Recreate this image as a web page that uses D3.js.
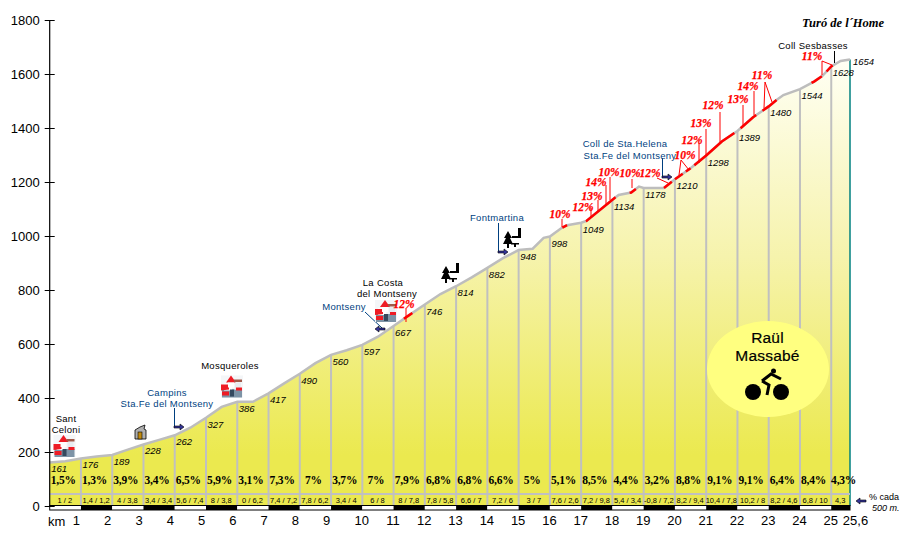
<!DOCTYPE html>
<html>
<head>
<meta charset="utf-8">
<script src="https://d3js.org/d3.v7.min.js"></script>
<style>
    html, body { margin: 0; padding: 0; background: #fff; }
    svg { display: block; }
    text { font-family: "Liberation Sans", Arial, sans-serif; }
    .axis path { display: none; }
    .axis text { font-size: 13px; fill: #000; }
</style>
</head>
<body>
<div id="chart"></div>
<script>
const width = 900;
const height = 540;

// profile, km and metres
const profileKm = [0, 0.5, 1, 1.5, 2, 2.5, 3, 3.5, 4, 4.5, 5, 5.5, 6, 6.5, 7, 7.5, 8, 8.5, 9, 9.5, 10, 10.5, 11, 11.5, 12, 12.5, 13, 13.5, 14, 14.5, 15, 15.45, 15.8, 16, 16.35, 16.55, 17, 17.17, 18.07, 18.2, 18.6, 18.85, 19, 19.65, 20, 20.5, 21, 21.5, 22, 22.5, 23, 23.25, 23.47, 24, 24.45, 24.72, 25, 25.3, 25.6];
const profileElev = [161, 166, 176, 183, 189, 209, 228, 245, 262, 290, 327, 367, 386, 386, 417, 454, 490, 529, 560, 577, 597, 627, 667, 707, 746, 785, 814, 847, 882, 918, 948, 953, 993, 998, 1028, 1040, 1049, 1056, 1141, 1152, 1161, 1183, 1178, 1178, 1210, 1251, 1298, 1350, 1389, 1440, 1480, 1504, 1522, 1544, 1572, 1593, 1628, 1648, 1654];

const kmMarks = d3.range(0, 26).concat([25.6]);
const kmElev = [161, 176, 189, 228, 262, 327, 386, 417, 490, 560, 597, 667, 746, 814, 882, 948, 998, 1049, 1134, 1178, 1210, 1298, 1389, 1480, 1544, 1628, 1654];
const kmLabels = [1, 2, 3, 4, 5, 6, 7, 8, 9, 10, 11, 12, 13, 14, 15, 16, 17, 18, 19, 20, 21, 22, 23, 24, 25, 25.6];

const kmGrade = ["1,5%", "1,3%", "3,9%", "3,4%", "6,5%", "5,9%", "3,1%", "7,3%", "7%", "3,7%", "7%", "7,9%", "6,8%", "6,8%", "6,6%", "5%", "5,1%", "8,5%", "4,4%", "3,2%", "8,8%", "9,1%", "9,1%", "6,4%", "8,4%", "4,3%"];
const halfGrade = ["1 / 2", "1,4 / 1,2", "4 / 3,8", "3,4 / 3,4", "5,6 / 7,4", "8 / 3,8", "0 / 6,2", "7,4 / 7,2", "7,8 / 6,2", "3,4 / 4", "6 / 8", "8 / 7,8", "7,8 / 5,8", "6,6 / 7", "7,2 / 6", "3 / 7", "7,6 / 2,6", "7,2 / 9,8", "5,4 / 3,4", "-0,8 / 7,2", "8,2 / 9,4", "10,4 / 7,8", "10,2 / 8", "8,2 / 4,6", "6,8 / 10", "4,3"];

// stretches of 10% or more, drawn in red on the profile
const steepFrom = [11.33, 16.4, 17.15, 18.55, 19.65, 20, 20.35, 20.62, 22.1, 22.8, 24.37, 24.85];
const steepTo = [11.6, 16.55, 18.1, 18.75, 19.9, 20.25, 20.5, 21.9, 22.6, 23.25, 24.7, 25.05];

const yTicks = d3.range(0, 1801, 200);

// placement of the annotations, in page pixels
const gradeNotes = [
    { t: "12%", x: 404, y: 304, leaders: [[406, 308, 406, 322]] },
    { t: "10%", x: 560, y: 214, leaders: [[562, 219, 562, 227]] },
    { t: "12%", x: 583, y: 207, leaders: [[591, 208, 591, 218]] },
    { t: "13%", x: 592, y: 196, leaders: [[598, 200, 598, 212]] },
    { t: "14%", x: 596, y: 182, leaders: [[606, 185, 606, 205]] },
    { t: "10%", x: 609, y: 172, leaders: [[610, 177, 610, 200]] },
    { t: "10%", x: 630, y: 173, leaders: [[632, 179, 632, 188]] },
    { t: "12%", x: 650, y: 173, leaders: [[657, 178, 668, 183]] },
    { t: "10%", x: 685, y: 155, leaders: [[681, 160, 679, 175], [681, 160, 689, 170]] },
    { t: "12%", x: 692, y: 140, leaders: [[699, 143, 699, 163]] },
    { t: "13%", x: 701, y: 123, leaders: [[706, 129, 706, 155]] },
    { t: "12%", x: 713, y: 105, leaders: [[720, 112, 720, 142]] },
    { t: "13%", x: 738, y: 99, leaders: [[743, 105, 743, 127]] },
    { t: "14%", x: 748, y: 86, leaders: [[754, 91, 754, 115]] },
    { t: "11%", x: 762, y: 75, leaders: [[765, 82, 764, 108], [765, 82, 772, 102]] },
    { t: "11%", x: 812, y: 56, leaders: [[822, 61, 822, 75], [822, 61, 832, 65]] }
];
const placeNames = [
    { t: "Sant", x: 66, y: 418, c: "#000" },
    { t: "Celoni", x: 66, y: 429, c: "#000" },
    { t: "Mosqueroles", x: 230, y: 365, c: "#000" },
    { t: "Campins", x: 167, y: 392, c: "#003f7f" },
    { t: "Sta.Fe del Montseny", x: 167, y: 403, c: "#003f7f" },
    { t: "La Costa", x: 383, y: 282, c: "#000" },
    { t: "del Montseny", x: 387, y: 293, c: "#000" },
    { t: "Montseny", x: 344, y: 306, c: "#003f7f" },
    { t: "Fontmartina", x: 497, y: 217, c: "#003f7f" },
    { t: "Coll de Sta.Helena", x: 625, y: 143, c: "#003f7f" },
    { t: "Sta.Fe del Montseny", x: 630, y: 155, c: "#003f7f" },
    { t: "Coll  Sesbasses", x: 813, y: 45, c: "#000" }
];

const svg = d3.select("#chart").append("svg")
    .attr("width", width)
    .attr("height", height);

const x = d3.scaleLinear().domain([0, 25.6]).range([49.7, 850]);
const y = d3.scaleLinear().domain([0, 1800]).range([506, 20]);

// height of the road at any km, following the read profile
const elevAt = d3.scaleLinear().domain(profileKm).range(profileElev);

const fill = svg.append("defs").append("linearGradient")
    .attr("id", "fade")
    .attr("gradientUnits", "userSpaceOnUse")
    .attr("x1", 0).attr("y1", 60)
    .attr("x2", 0).attr("y2", 455);
fill.append("stop").attr("offset", 0).attr("stop-color", "#fffff4");
fill.append("stop").attr("offset", 0.5).attr("stop-color", "#f6f3ac");
fill.append("stop").attr("offset", 1).attr("stop-color", "#ebe94f");

const area = d3.area()
    .x((d, i) => x(profileKm[i]))
    .y0(y(0))
    .y1(d => y(d));

const line = d3.line()
    .x((d, i) => x(profileKm[i]))
    .y(d => y(d));

svg.append("path")
    .datum(profileElev)
    .attr("d", area)
    .attr("fill", "url(#fade)");

// km separators
svg.append("g").selectAll("line")
    .data(kmMarks.slice(1, -1))
    .join("line")
    .attr("x1", d => x(d)).attr("x2", d => x(d))
    .attr("y1", d => y(elevAt(d)))
    .attr("y2", y(0))
    .attr("stroke", "#c0c0c0")
    .attr("stroke-width", 2);

svg.append("line")
    .attr("x1", x(25.6)).attr("x2", x(25.6))
    .attr("y1", y(1654)).attr("y2", y(0))
    .attr("stroke", "#008080")
    .attr("stroke-width", 1.5);

svg.append("line")
    .attr("x1", x(0)).attr("x2", x(25.6))
    .attr("y1", 494).attr("y2", 494)
    .attr("stroke", "#c0c0c0")
    .attr("stroke-width", 2);

svg.append("path")
    .datum(profileElev)
    .attr("d", line)
    .attr("fill", "none")
    .attr("stroke", "#bdbdbd")
    .attr("stroke-width", 2.5);

// steep stretches
steepFrom.forEach((from, i) => {
    const kms = [from, ...profileKm.filter(k => k > from && k < steepTo[i]), steepTo[i]];
    svg.append("path")
        .datum(kms)
        .attr("d", d3.line().x(k => x(k)).y(k => y(elevAt(k))))
        .attr("fill", "none")
        .attr("stroke", "#ff0000")
        .attr("stroke-width", 2.5);
});

// black and white km bar
svg.append("g").selectAll("rect")
    .data(kmMarks.slice(0, -1))
    .join("rect")
    .attr("x", d => x(d))
    .attr("y", 506)
    .attr("width", (d, i) => x(kmMarks[i + 1]) - x(d))
    .attr("height", 4)
    .attr("fill", (d, i) => i % 2 ? "#000" : "#fff");

svg.append("rect")
    .attr("x", x(0)).attr("y", 505.5)
    .attr("width", x(25.6) - x(0)).attr("height", 4.5)
    .attr("fill", "none")
    .attr("stroke", "#000")
    .attr("stroke-width", 1);

// axes
const yAxis = svg.append("g")
    .attr("class", "axis")
    .attr("transform", `translate(${x(0)},0)`)
    .call(d3.axisLeft(y).tickValues(yTicks).tickFormat(d => d).tickSize(5).tickPadding(4));
yAxis.selectAll(".tick line").attr("x2", 5).attr("x1", -5).attr("stroke", "#000");
yAxis.selectAll(".tick text").attr("x", -10);

svg.append("line")
    .attr("x1", x(0)).attr("x2", x(0))
    .attr("y1", y(1800)).attr("y2", y(0))
    .attr("stroke", "#000")
    .attr("stroke-width", 1.2);

const xAxis = svg.append("g")
    .attr("class", "axis")
    .attr("transform", "translate(0,515)")
    .call(d3.axisBottom(x)
        .tickValues(kmLabels)
        .tickSize(0)
        .tickPadding(0)
        .tickFormat(d => String(d).replace(".", ",")));
xAxis.selectAll(".tick text")
    .attr("y", 0)
    .attr("dy", "0.8em")
    .attr("dx", d => d === 25.6 ? 5 : d < 10 ? -5 : -1);

svg.append("text")
    .attr("x", 48).attr("y", 525.5)
    .style("font-size", "13px")
    .text("km");

// labels along the road
svg.append("g").selectAll("text")
    .data(kmElev)
    .join("text")
    .attr("x", (d, i) => x(kmMarks[i]) + (i === 26 ? 3 : 1.5))
    .attr("y", (d, i) => y(d) + (i === 26 ? 6 : i === 0 ? 9 : 10))
    .style("font-size", "9.5px")
    .style("font-style", "italic")
    .text(d => d);

svg.append("g").selectAll("text")
    .data(kmGrade)
    .join("text")
    .attr("x", (d, i) => (x(kmMarks[i]) + x(kmMarks[i + 1])) / 2 + (i === 25 ? 3 : -2))
    .attr("y", 484)
    .attr("text-anchor", "middle")
    .style("font-family", "'Liberation Serif', serif")
    .style("font-weight", "bold")
    .style("font-size", "11.5px")
    .style("letter-spacing", "-0.2px")
    .text(d => d);

svg.append("g").selectAll("text")
    .data(halfGrade)
    .join("text")
    .attr("x", (d, i) => (x(kmMarks[i]) + x(kmMarks[i + 1])) / 2 - 0.5)
    .attr("y", 503)
    .attr("text-anchor", "middle")
    .style("font-size", "7.5px")
    .text(d => d);

// place names
svg.append("g").selectAll("text")
    .data(placeNames)
    .join("text")
    .attr("x", d => d.x)
    .attr("y", d => d.y + 3.5)
    .attr("text-anchor", "middle")
    .attr("fill", d => d.c)
    .style("font-size", "9.5px")
    .style("letter-spacing", "0.3px")
    .text(d => d.t);

svg.append("text")
    .attr("x", 843).attr("y", 26.5)
    .attr("text-anchor", "middle")
    .style("font-family", "'Liberation Serif', serif")
    .style("font-weight", "bold")
    .style("font-style", "italic")
    .style("font-size", "12.5px")
    .text("Turó de l´Home");

svg.append("line")
    .attr("x1", 834.5).attr("x2", 834.5)
    .attr("y1", 51).attr("y2", 63)
    .attr("stroke", "#000");

// blue pointers with arrow ends
function arrow(px, py, dir) {
    const g = svg.append("g").attr("transform", `translate(${px},${py}) scale(${dir},1)`);
    g.append("path")
        .attr("d", "M0,-1 L6,-1 L6,-3 L10,0 L6,3 L6,1 L0,1 Z")
        .attr("fill", "#333399")
        .attr("stroke", "#000")
        .attr("stroke-width", 0.6);
}

function leader(x1, y1, x2, y2, color) {
    svg.append("line")
        .attr("x1", x1).attr("y1", y1)
        .attr("x2", x2).attr("y2", y2)
        .attr("stroke", color)
        .attr("stroke-width", 1);
}

leader(174.5, 408, 174.5, 427, "#003f7f");
arrow(174, 427, 1);
leader(498.5, 223, 498.5, 252, "#003f7f");
arrow(498, 252, 1);
leader(662.5, 158, 662.5, 177, "#003f7f");
arrow(662, 177, 1);
leader(365, 312, 382, 328, "#003f7f");
arrow(385, 329, -1);
arrow(866, 501, -1);

svg.append("text")
    .attr("x", 869).attr("y", 499.5)
    .style("font-size", "9px")
    .text("% cada");
svg.append("text")
    .attr("x", 872).attr("y", 511)
    .style("font-size", "9px")
    .style("font-style", "italic")
    .text("500 m.");

// town icon
function town(px, py) {
    const g = svg.append("g").attr("transform", `translate(${px},${py})`);
    g.append("rect").attr("width", 22).attr("height", 22).attr("fill", "#f4f6f8");
    g.append("rect").attr("x", 1).attr("y", 14).attr("width", 20).attr("height", 8).attr("fill", "#7d93a6");
    g.append("rect").attr("x", 3).attr("y", 8).attr("width", 8).attr("height", 7).attr("fill", "#fff");
    g.append("path").attr("d", "M0,9 L8,9 L8,14 L0,15 Z").attr("fill", "#ee1c25");
    g.append("path").attr("d", "M10,0 L15,7 L5,7 Z").attr("fill", "#ee1c25");
    g.append("rect").attr("x", 7).attr("y", 7).attr("width", 6).attr("height", 5).attr("fill", "#fff");
    g.append("rect").attr("x", 13).attr("y", 4).attr("width", 8).attr("height", 2.5).attr("fill", "#a05a4a");
    g.append("rect").attr("x", 14).attr("y", 7).attr("width", 6).attr("height", 7).attr("fill", "#e8ecf0");
    g.append("rect").attr("x", 1).attr("y", 16).attr("width", 7).attr("height", 4).attr("fill", "#ee1c25");
    g.append("rect").attr("x", 9).attr("y", 14).attr("width", 4).attr("height", 7).attr("fill", "#34495e");
    g.append("rect").attr("x", 15).attr("y", 12).attr("width", 6).attr("height", 3).attr("fill", "#ee1c25");
}
town(53.5, 435);
town(221, 375.5);
town(375, 300);

// red grade notes, above the town icons
const notes = svg.append("g");
gradeNotes.forEach(n => {
    n.leaders.forEach(l => {
        notes.append("line")
            .attr("x1", l[0]).attr("y1", l[1])
            .attr("x2", l[2]).attr("y2", l[3])
            .attr("stroke", "#ff0000")
            .attr("stroke-width", 1);
    });
});
notes.selectAll("text")
    .data(gradeNotes)
    .join("text")
    .attr("x", d => d.x)
    .attr("y", d => d.y + 4)
    .attr("text-anchor", "middle")
    .attr("fill", "#ff0000")
    .style("font-family", "'Liberation Serif', serif")
    .style("font-weight", "bold")
    .style("font-style", "italic")
    .style("font-size", "11.5px")
    .style("stroke", "#ff0000")
    .style("stroke-width", "0.25px")
    .text(d => d.t);

// shelter icon
const hut = svg.append("g").attr("transform", "translate(134,425)");
hut.append("path").attr("d", "M1,14 L1,5 L6,2 L11,0 L10,4 L12,5 L12,14 Z").attr("fill", "#b0b0b0").attr("stroke", "#000").attr("stroke-width", 0.8);
hut.append("rect").attr("x", 4).attr("y", 7).attr("width", 4).attr("height", 7).attr("fill", "#c08a10").attr("stroke", "#000").attr("stroke-width", 0.6);

// tree and bench icon
function tree(px, py) {
    const g = svg.append("g").attr("transform", `translate(${px},${py})`);
    g.append("path").attr("d", "M5,3 L9,10 L7,10 L10,16 L0,16 L3,10 L1,10 Z");
    g.append("rect").attr("x", 4).attr("y", 16).attr("width", 2).attr("height", 4);
    g.append("rect").attr("x", 15).attr("y", 0).attr("width", 3).attr("height", 10);
    g.append("rect").attr("x", 9).attr("y", 8).attr("width", 9).attr("height", 2);
    g.append("rect").attr("x", 8).attr("y", 15).attr("width", 8).attr("height", 1.5);
    g.append("rect").attr("x", 11).attr("y", 15).attr("width", 2).attr("height", 4);
}
tree(441, 263);
tree(503, 228);

// author badge
svg.append("ellipse")
    .attr("cx", 768).attr("cy", 369)
    .attr("rx", 61).attr("ry", 48)
    .attr("fill", "#ffff80");

["Raül", "Massabé"].forEach((name, i) => {
    svg.append("text")
        .attr("x", 767.5).attr("y", 342.5 + i * 18)
        .attr("text-anchor", "middle")
        .style("font-size", "15.5px")
        .style("letter-spacing", "0.2px")
        .style("stroke", "#000")
        .style("stroke-width", "0.2px")
        .text(name);
});

const rider = svg.append("g");
rider.append("circle").attr("cx", 753).attr("cy", 392).attr("r", 8);
rider.append("circle").attr("cx", 781).attr("cy", 392).attr("r", 8);
rider.append("circle").attr("cx", 773.5).attr("cy", 371).attr("r", 2.5);
rider.append("path")
    .attr("d", "M762,381 L771,374 L781,379 M762,381 L769,385 L767,395")
    .attr("fill", "none")
    .attr("stroke", "#000")
    .attr("stroke-width", 3);
</script>
</body>
</html>
